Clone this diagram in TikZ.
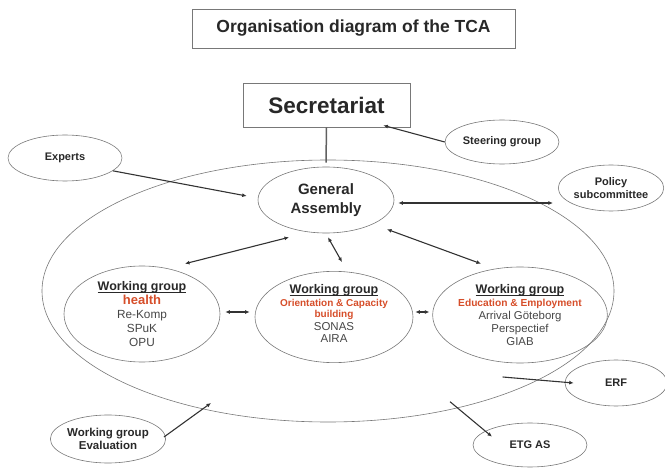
\documentclass[tikz,border=0pt]{standalone}
\usepackage{fontspec}
\setmainfont{Liberation Sans}
\usetikzlibrary{shapes.geometric,arrows.meta}
\definecolor{txt}{RGB}{40,40,40}
\definecolor{subtxt}{RGB}{70,70,70}
\definecolor{wgred}{RGB}{214,78,42}
\definecolor{edge}{RGB}{120,120,120}
\newcommand\fsz[2]{\fontsize{#1}{#2}\selectfont}
\newcommand\wgul[1]{\setbox0\hbox{#1}\rlap{\raisebox{-2.4pt}{\rule{\wd0}{1.1pt}}}\box0}
\begin{document}
\begin{tikzpicture}[x=1pt,y=-1pt,
  ell/.style={ellipse,draw=edge,line width=0.6pt,inner sep=0pt,align=center,text=txt},
  box/.style={rectangle,draw=edge,line width=0.8pt,inner sep=0pt,text=txt},
  conn/.style={draw=black!80,line width=1.1pt},
  both/.style={conn,{Latex[length=4.5pt,width=4pt]}-{Latex[length=4.5pt,width=4pt]}},
  fwd/.style={conn,-{Latex[length=4.5pt,width=4pt]}},
  bwd/.style={conn,{Latex[length=4.5pt,width=4pt]}-},
  smallb/.style={font=\bfseries\fsz{11}{13}}
]
\useasboundingbox (0,0) rectangle (665,468);

% big ellipse
\node[ell,minimum width=572pt,minimum height=262pt] (tca) at (328,291) {};

% title and secretariat
\node[box,minimum width=323pt,minimum height=39pt,font=\bfseries\fsz{17.5}{20}] (title) at (353.5,28.5) {Organisation diagram of the TCA};
\node[box,minimum width=167pt,minimum height=44pt,font=\bfseries\fsz{22.5}{26}] (sec) at (326.5,105) {Secretariat};

% general assembly
\node[ell,minimum width=136pt,minimum height=66pt,font=\bfseries\fsz{15}{19}] (ga) at (326,200) {General\\Assembly};

% outer ellipses
\node[ell,minimum width=114pt,minimum height=46pt,smallb] (exp) at (65,158) {Experts};
\node[ell,minimum width=114pt,minimum height=44pt,smallb] (steer) at (502,142) {Steering group};
\node[ell,minimum width=104pt,minimum height=46pt,smallb] (pol) at (611,188) {Policy\\subcommittee};
\node[ell,minimum width=102pt,minimum height=46pt,smallb] (erf) at (616,383) {ERF};
\node[ell,minimum width=114pt,minimum height=44pt,smallb] (etg) at (530,445) {ETG AS};
\node[ell,minimum width=114pt,minimum height=48pt,font=\bfseries\fsz{11.5}{13}] (ev) at (108,439) {Working group\\Evaluation};

% working groups
\node[ell,minimum width=156pt,minimum height=96pt,font=\fsz{11.8}{14},text=subtxt] (hw) at (142,314)
  {{\bfseries\color{txt}\fsz{12.5}{14}\wgul{Working group}}\\
   {\bfseries\color{wgred}\fsz{13}{14}health}\\Re-Komp\\SPuK\\OPU};
\node[ell,minimum width=158pt,minimum height=90pt,font=\fsz{11.5}{12.5},text=subtxt] (mw) at (334,317)
  {{\bfseries\color{txt}\fsz{12.5}{14}\wgul{Working group}}\\[0.5pt]
   {\bfseries\color{wgred}\fsz{10}{11}Orientation \& Capacity}\\[-1.5pt]
   {\bfseries\color{wgred}\fsz{10}{11}building}\\SONAS\\AIRA\\[-6pt]{}};
\node[ell,minimum width=164pt,minimum height=96pt,font=\fsz{11.4}{12.9},text=subtxt] (ew) at (520,315)
  {{\bfseries\color{txt}\fsz{12.5}{14}\wgul{Working group}}\\
   {\bfseries\color{wgred}\fsz{10.2}{12}Education \& Employment}\\Arrival Göteborg\\Perspectief\\GIAB};

% connectors
\draw[draw=edge!80!black,line width=1.5pt] (sec.south) -- ([shift={(0,-4)}]ga.north);
\draw[bwd] ([shift={(-27,-2)}]sec.south east) -- (steer.west);
\draw[fwd] (exp.-15) -- ([shift={(-11,-4)}]ga.west);
\draw[both] ([shift={(4,3)}]ga.east) -- ([shift={(-5,15)}]pol.west);
\draw[both] ([shift={(-37,4)}]ga.south) -- ([shift={(43,-2)}]hw.north);
\draw[both] ([shift={(2,4)}]ga.south) -- ([shift={(8,-9)}]mw.north);
\draw[both] ([shift={(61,-4)}]ga.south) -- ([shift={(-39,-3)}]ew.north);
\draw[both] ([shift={(5,-2)}]hw.east) -- ([shift={(-5,-5)}]mw.west);
\draw[both] ([shift={(2,-5)}]mw.east) -- ([shift={(-3,-3)}]ew.west);
\draw[fwd] ([shift={(-62,-6)}]erf.west) -- ([shift={(9,0)}]erf.west);
\draw[fwd] ([shift={(-80,-21)}]etg.north) -- ([shift={(-38,14)}]etg.north);
\draw[fwd] ([shift={(-2,-2)}]ev.east) -- ([shift={(45,-36)}]ev.east);
\end{tikzpicture}
\end{document}
